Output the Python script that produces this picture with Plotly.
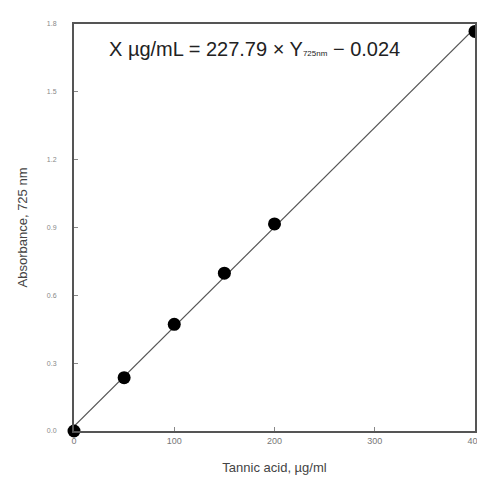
import numpy as np
import plotly.graph_objects as go

conc = [0, 50, 100, 150, 200, 400]
absorb = [0.0, 0.236, 0.472, 0.698, 0.916, 1.767]
x_ticks = [0, 100, 200, 300, 400]
y_ticks = [0.0, 0.3, 0.6, 0.9, 1.2, 1.5, 1.8]
y_labels = ["0.0", "0.3", "0.6", "0.9", "1.2", "1.5", "1.8"]

slope, intercept = np.polyfit(conc, absorb, 1)
fit_x = [0, 400]
fit_y = [slope * v + intercept for v in fit_x]

fig = go.Figure()
fig.add_trace(go.Scatter(x=fit_x, y=fit_y, mode="lines",
                         line=dict(color="#555555", width=1.2),
                         cliponaxis=False, showlegend=False))
fig.add_trace(go.Scatter(x=conc, y=absorb, mode="markers",
                         marker=dict(color="black", size=13),
                         cliponaxis=False, showlegend=False))

fig.add_annotation(x=180, y=1.69, xref="x", yref="y",
                   text="X µg/mL = 227.79 × Y<span style='font-size:8px'>725nm</span> − 0.024",
                   showarrow=False, font=dict(size=20, color="#222222",
                                              family="Liberation Sans Narrow, Arial Narrow, Liberation Sans"),
                   xanchor="center", yanchor="middle")

axis_common = dict(showline=True, linecolor="#555555", linewidth=2, mirror=True,
                   ticks="inside", ticklen=4, tickcolor="#888888",
                   showgrid=False, zeroline=False)

fig.update_xaxes(range=[0, 400], tickvals=x_ticks,
                 tickfont=dict(size=9, color="#777777", family="Liberation Sans"),
                 title=dict(text="Tannic acid, µg/ml", font=dict(size=13, color="#444444",
                                                                 family="Liberation Sans"),
                            standoff=18),
                 **axis_common)
fig.update_yaxes(range=[0, 1.8], tickvals=y_ticks, ticktext=y_labels,
                 tickfont=dict(size=7, color="#888888", family="Liberation Sans"),
                 ticklabelstandoff=14,
                 title=dict(text="Absorbance, 725 nm", font=dict(size=13, color="#444444",
                                                                 family="Liberation Sans"),
                            standoff=16),
                 **axis_common)

fig.update_layout(width=485, height=486, margin=dict(l=66, r=10, t=16, b=63),
                  plot_bgcolor="white", paper_bgcolor="white")

fig.write_html("out.html")
